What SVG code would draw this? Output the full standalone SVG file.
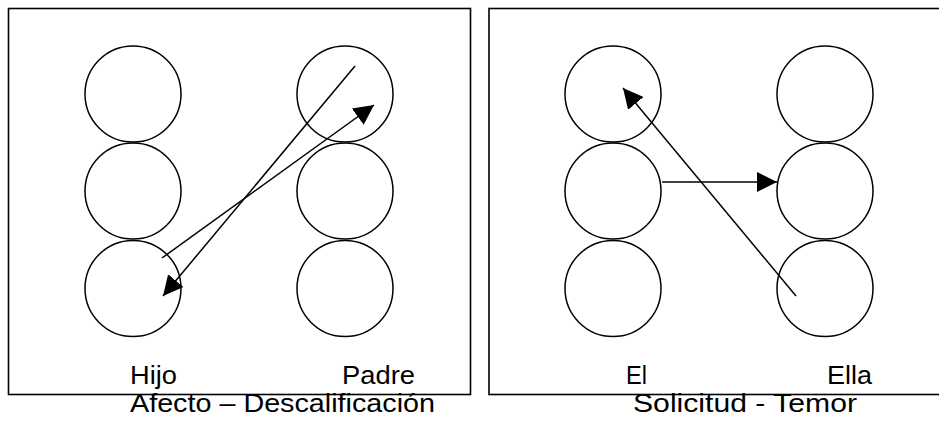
<svg xmlns="http://www.w3.org/2000/svg" width="939" height="421" viewBox="0 0 939 421">
<style>
.frame{fill:none;stroke:#000;stroke-width:1.6}
.c{fill:#fff;stroke:#000;stroke-width:1.5}
.ln{fill:none;stroke:#000;stroke-width:1.5}
.t{font-family:"Liberation Sans",Arial,sans-serif;font-size:25px;fill:#000}
</style>
<defs>
<marker id="ah" markerUnits="userSpaceOnUse" markerWidth="20" markerHeight="20" refX="20" refY="10" orient="auto" viewBox="0 0 20 20">
<path d="M0,0 L20,10 L0,20 z" fill="#000"/>
</marker>
</defs>
<g id="panel-left">
<rect class="frame" x="8.5" y="8.5" width="462" height="386"/>
</g>
<g id="panel-right">
<rect class="frame" x="489" y="8.5" width="470" height="386"/>
</g>
<g id="hijo-1"><circle class="c" cx="133" cy="94" r="48"/></g>
<g id="hijo-2"><circle class="c" cx="133" cy="191" r="48"/></g>
<g id="hijo-3"><circle class="c" cx="133" cy="288.5" r="48"/></g>
<g id="padre-1"><circle class="c" cx="345" cy="94" r="48"/></g>
<g id="padre-2"><circle class="c" cx="345" cy="191" r="48"/></g>
<g id="padre-3"><circle class="c" cx="345" cy="288.5" r="48"/></g>
<g id="el-1"><circle class="c" cx="613" cy="94" r="48"/></g>
<g id="el-2"><circle class="c" cx="613" cy="191" r="48"/></g>
<g id="el-3"><circle class="c" cx="613" cy="288.5" r="48"/></g>
<g id="ella-1"><circle class="c" cx="825" cy="94" r="48"/></g>
<g id="ella-2"><circle class="c" cx="825" cy="191" r="48"/></g>
<g id="ella-3"><circle class="c" cx="825" cy="288.5" r="48"/></g>
<g id="connectors">
<line class="ln" x1="355" y1="66" x2="163" y2="296" marker-end="url(#ah)"/>
<line class="ln" x1="162" y1="258" x2="374" y2="105" marker-end="url(#ah)"/>
<line class="ln" x1="662" y1="182" x2="777" y2="182" marker-end="url(#ah)"/>
<line class="ln" x1="796" y1="296" x2="623" y2="88" marker-end="url(#ah)"/>
</g>
<g id="labels">
<text class="t" x="130" y="384" textLength="47" lengthAdjust="spacingAndGlyphs">Hijo</text>
<text class="t" x="342" y="384" textLength="73" lengthAdjust="spacingAndGlyphs">Padre</text>
<text class="t" x="626" y="384" textLength="21" lengthAdjust="spacingAndGlyphs">El</text>
<text class="t" x="827" y="384" textLength="45" lengthAdjust="spacingAndGlyphs">Ella</text>
<text class="t" x="130" y="412" textLength="305" lengthAdjust="spacingAndGlyphs">Afecto – Descalificación</text>
<text class="t" x="633" y="412" textLength="224" lengthAdjust="spacingAndGlyphs">Solicitud - Temor</text>
</g>
</svg>
